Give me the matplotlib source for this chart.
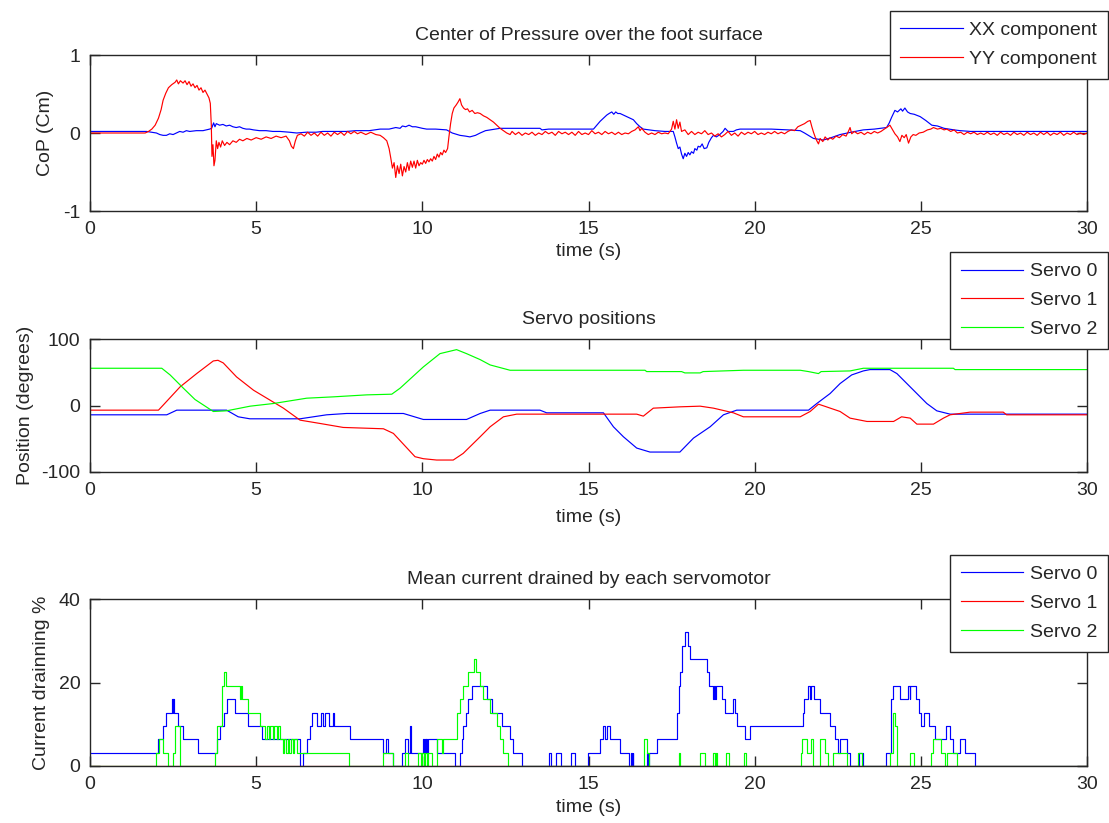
import matplotlib
matplotlib.use("Agg")
import matplotlib.pyplot as plt

plt.rcParams['font.family'] = ['Liberation Sans', 'DejaVu Sans']
plt.rcParams['axes.unicode_minus'] = False

# ---------------- Top: Center of Pressure ----------------
cop_xx_t = [0, 1.7, 1.85, 2.0, 2.1, 2.2, 2.3, 2.4, 2.5, 2.6, 2.7, 2.8, 2.9, 3.0, 3.2, 3.4, 3.6, 3.66,
            3.72, 3.76, 3.8, 3.9, 4.0, 4.1, 4.2, 4.3, 4.4, 4.5, 4.6, 4.7, 4.8, 4.92, 5.1, 5.3, 5.5,
            5.72, 6.0, 6.22, 6.5, 6.8, 7.0, 7.4, 7.72, 8.0, 8.4, 8.73, 9.0, 9.2, 9.33, 9.4, 9.5,
            9.6, 9.7, 9.8, 10.0, 10.13, 10.4, 10.73, 10.9, 11.13, 11.3, 11.43, 11.6, 11.74, 11.9,
            12.04, 12.34, 13.0, 13.54, 13.6, 13.8, 14.0, 14.5, 15.15, 15.25, 15.35, 15.45, 15.55,
            15.62, 15.7, 15.76, 15.82, 15.88, 15.95, 16.05, 16.15, 16.25, 16.35, 16.45, 16.55,
            16.65, 17.0, 17.3, 17.55, 17.6, 17.65, 17.7, 17.75, 17.8, 17.85, 17.9, 17.95, 18.0,
            18.05, 18.1, 18.16, 18.2, 18.26, 18.3, 18.36, 18.42, 18.48, 18.56, 18.62, 18.7, 18.76,
            18.85, 18.95, 19.05, 19.11, 19.2, 19.36, 19.45, 19.56, 20.0, 20.5, 21.0, 21.37, 21.5,
            21.77, 22.07, 22.3, 22.57, 22.9, 23.27, 23.6, 23.97, 24.05, 24.12, 24.22, 24.3, 24.4,
            24.45, 24.52, 24.6, 24.68, 24.8, 24.98, 25.15, 25.33, 25.5, 25.7, 26.0, 26.18, 26.5,
            27.0, 27.5, 28.0, 28.5, 29.0, 29.5, 30.0]
cop_xx_v = [0.02, 0.02, 0.01, 0.0, -0.02, -0.03, -0.03, -0.01, -0.02, 0.0, 0.02, 0.01, 0.03, 0.02,
            0.03, 0.03, 0.05, 0.06, 0.13, 0.08, 0.12, 0.1, 0.11, 0.09, 0.1, 0.08, 0.07, 0.08, 0.06,
            0.05, 0.05, 0.04, 0.03, 0.03, 0.02, 0.02, 0.01, 0.0, 0.01, 0.01, 0.02, 0.02, 0.02, 0.03,
            0.03, 0.05, 0.05, 0.07, 0.06, 0.09, 0.08, 0.1, 0.08, 0.08, 0.06, 0.05, 0.05, 0.04, 0.0,
            -0.03, -0.04, -0.05, -0.03, 0.0, 0.03, 0.04, 0.06, 0.06, 0.06, 0.04, 0.05, 0.05, 0.05,
            0.05, 0.1, 0.15, 0.19, 0.23, 0.25, 0.27, 0.24, 0.27, 0.25, 0.25, 0.23, 0.21, 0.19, 0.17,
            0.12, 0.08, 0.05, 0.03, 0.02, 0.02, -0.05, -0.13, -0.2, -0.18, -0.27, -0.33, -0.26,
            -0.3, -0.25, -0.28, -0.24, -0.26, -0.2, -0.22, -0.17, -0.18, -0.14, -0.2, -0.19, -0.12,
            -0.06, -0.03, -0.05, -0.02, 0.02, 0.06, 0.02, 0.02, 0.04, 0.05, 0.05, 0.05, 0.04, 0.03,
            0.0, -0.07, -0.09, -0.06, -0.02, 0.01, 0.04, 0.05, 0.07, 0.13, 0.2, 0.29, 0.27, 0.31,
            0.28, 0.32, 0.27, 0.25, 0.24, 0.21, 0.16, 0.1, 0.09, 0.06, 0.04, 0.03, 0.02, 0.02, 0.02,
            0.02, 0.02, 0.02, 0.02, 0.02]

cop_yy_t = [0, 1.66, 1.76, 1.86, 1.96, 2.06, 2.14, 2.2, 2.28, 2.36, 2.46, 2.56, 2.61, 2.66, 2.72,
            2.8, 2.86, 2.92, 2.98, 3.04, 3.1, 3.16, 3.22, 3.28, 3.34, 3.4, 3.46, 3.52, 3.58, 3.62,
            3.65, 3.67, 3.7, 3.73, 3.76, 3.8, 3.84, 3.88, 3.93, 3.98, 4.05, 4.12, 4.2, 4.3, 4.4,
            4.5, 4.6, 4.72, 4.85, 5.0, 5.15, 5.3, 5.45, 5.6, 5.75, 5.9, 6.0, 6.06, 6.12, 6.18, 6.24,
            6.35, 6.45, 6.55, 6.65, 6.75, 6.85, 6.95, 7.05, 7.15, 7.25, 7.35, 7.45, 7.55, 7.65,
            7.75, 7.85, 7.95, 8.05, 8.15, 8.3, 8.45, 8.6, 8.73, 8.83, 8.93, 9.0, 9.05, 9.1, 9.15,
            9.2, 9.25, 9.3, 9.35, 9.4, 9.45, 9.5, 9.55, 9.6, 9.65, 9.7, 9.75, 9.8, 9.85, 9.9, 9.95,
            10.0, 10.05, 10.1, 10.15, 10.2, 10.25, 10.3, 10.35, 10.4, 10.45, 10.5, 10.55, 10.6,
            10.65, 10.7, 10.76, 10.8, 10.85, 10.9, 10.95, 11.02, 11.08, 11.13, 11.18, 11.24, 11.3,
            11.36, 11.42, 11.5, 11.58, 11.66, 11.74, 11.84, 11.94, 12.04, 12.14, 12.24, 12.34,
            12.44, 12.54, 12.64, 12.7, 12.8, 12.9, 13.0, 13.1, 13.2, 13.3, 13.4, 13.5, 13.6, 13.7,
            13.8, 13.9, 14.0, 14.1, 14.2, 14.3, 14.4, 14.5, 14.6, 14.7, 14.8, 14.9, 15.0, 15.1,
            15.2, 15.3, 15.4, 15.5, 15.6, 15.7, 15.8, 15.9, 16.0, 16.1, 16.2, 16.3, 16.4, 16.5,
            16.55, 16.6, 16.7, 16.8, 16.9, 17.0, 17.1, 17.2, 17.3, 17.4, 17.5, 17.55, 17.6, 17.65,
            17.7, 17.75, 17.8, 17.9, 18.0, 18.1, 18.2, 18.3, 18.4, 18.5, 18.6, 18.7, 18.8, 18.9,
            19.0, 19.1, 19.2, 19.3, 19.4, 19.5, 19.6, 19.7, 19.8, 19.9, 20.0, 20.1, 20.2, 20.3,
            20.4, 20.5, 20.6, 20.7, 20.8, 20.9, 21.0, 21.1, 21.2, 21.3, 21.4, 21.5, 21.6, 21.67,
            21.72, 21.77, 21.82, 21.87, 21.92, 21.97, 22.05, 22.12, 22.2, 22.27, 22.35, 22.45,
            22.55, 22.65, 22.75, 22.82, 22.87, 22.92, 23.0, 23.1, 23.2, 23.3, 23.4, 23.5, 23.6,
            23.7, 23.8, 23.9, 24.0, 24.07, 24.15, 24.22, 24.3, 24.37, 24.43, 24.5, 24.56, 24.63,
            24.7, 24.77, 24.85, 24.95, 25.07, 25.2, 25.3, 25.38, 25.5, 25.6, 25.7, 25.78, 25.9,
            26.0, 26.1, 26.2, 26.3, 26.4, 26.5, 26.6, 26.7, 26.8, 26.9, 27.0, 27.1, 27.2, 27.3,
            27.4, 27.5, 27.6, 27.7, 27.8, 27.9, 28.0, 28.1, 28.2, 28.3, 28.4, 28.5, 28.6, 28.7,
            28.8, 28.9, 29.0, 29.1, 29.2, 29.3, 29.4, 29.5, 29.6, 29.7, 29.8, 29.9, 30.0]
cop_yy_v = [0.0, 0.0, 0.02, 0.05, 0.1, 0.19, 0.3, 0.42, 0.51, 0.58, 0.62, 0.65, 0.68, 0.63, 0.67,
            0.64, 0.67, 0.62, 0.66, 0.6, 0.63, 0.58, 0.61, 0.55, 0.58, 0.52, 0.55, 0.5, 0.45, 0.38,
            0.1, -0.3, -0.15, -0.42, -0.35, -0.1, -0.2, -0.12, -0.18, -0.1, -0.16, -0.12, -0.15,
            -0.1, -0.12, -0.08, -0.1, -0.07, -0.09, -0.06, -0.08, -0.05, -0.07, -0.04, -0.06,
            -0.04, -0.1, -0.17, -0.2, -0.1, -0.03, -0.01, -0.04, 0.01, -0.03, 0.0, -0.04, 0.01,
            -0.03, 0.0, -0.04, 0.01, -0.02, 0.01, -0.03, 0.02, -0.01, 0.02, -0.01, 0.01, -0.02,
            0.01, -0.02, -0.03, -0.06, -0.1, -0.2, -0.32, -0.45, -0.38, -0.57, -0.42, -0.52, -0.4,
            -0.55, -0.43, -0.5, -0.38, -0.48, -0.36, -0.44, -0.36, -0.45, -0.35, -0.42, -0.38, -0.4,
            -0.35, -0.39, -0.34, -0.37, -0.33, -0.36, -0.3, -0.34, -0.27, -0.31, -0.25, -0.28,
            -0.22, -0.25, -0.2, -0.05, 0.12, 0.25, 0.32, 0.36, 0.4, 0.44, 0.36, 0.32, 0.3, 0.31,
            0.27, 0.29, 0.25, 0.26, 0.25, 0.22, 0.2, 0.17, 0.14, 0.1, 0.06, 0.03, 0.0, -0.02, 0.02,
            -0.02, 0.01, -0.03, 0.0, -0.02, 0.01, -0.03, 0.0, -0.02, 0.02, -0.01, 0.01, -0.03, 0.02,
            -0.01, 0.01, -0.02, 0.01, -0.03, 0.02, -0.02, 0.0, -0.02, 0.03, -0.01, 0.01, -0.02,
            0.02, -0.01, 0.01, -0.02, 0.01, -0.02, 0.0, -0.01, 0.02, 0.04, 0.08, 0.03, 0.06, 0.01,
            -0.02, 0.0, -0.02, 0.01, -0.01, 0.0, -0.01, 0.05, 0.15, 0.05, 0.17, 0.06, 0.14, 0.02,
            0.04, -0.02, 0.02, -0.02, 0.01, -0.01, 0.03, -0.02, 0.0, -0.04, -0.01, -0.05, -0.02,
            0.02, -0.03, 0.0, -0.04, 0.01, -0.02, 0.01, -0.01, 0.02, -0.02, 0.0, -0.02, 0.01, -0.01,
            0.02, -0.01, 0.01, -0.01, 0.02, 0.04, 0.03, 0.08, 0.1, 0.12, 0.15, 0.16, 0.08, 0.01,
            -0.05, -0.1, -0.14, -0.07, -0.11, -0.05, -0.09, -0.06, -0.08, -0.04, -0.06, -0.02,
            -0.04, 0.02, 0.07, -0.01, 0.02, -0.01, 0.01, -0.02, 0.01, -0.01, 0.02, 0.0, 0.02, 0.05,
            0.08, 0.1, 0.04, -0.01, -0.05, -0.11, -0.03, -0.06, -0.02, -0.13, -0.05, -0.02, -0.03,
            0.0, 0.01, 0.04, 0.05, 0.07, 0.05, 0.06, 0.04, 0.05, 0.02, 0.04, 0.0, 0.01, -0.02, 0.01,
            -0.01, 0.01, -0.02, 0.0, -0.02, 0.01, -0.02, 0.0, -0.03, 0.01, -0.02, 0.0, -0.03, 0.01,
            -0.02, 0.0, -0.03, 0.01, -0.02, 0.0, -0.03, 0.01, -0.02, 0.01, -0.03, 0.0, -0.02, 0.01,
            -0.03, 0.0, -0.02, 0.01, -0.02, 0.0, -0.02, 0.0]

# ---------------- Middle: Servo positions ----------------
pos0_t = [0, 2.31, 2.61, 4.11, 4.46, 4.81, 6.32, 6.72, 7.12, 7.72, 9.43, 10.03, 11.33, 11.74,
          12.04, 13.54, 13.74, 15.45, 15.75, 16.05, 16.45, 16.85, 17.75, 18.16, 18.66, 19.06,
          19.46, 21.62, 21.87, 22.27, 22.57, 22.92, 23.27, 23.47, 24.07, 24.28, 24.78, 25.18,
          25.48, 25.88, 30]
pos0_v = [-14, -14, -7, -7, -17, -20, -20, -17, -14, -12, -12, -21, -21, -12, -7, -7, -11, -11,
          -32, -47, -64, -70, -70, -49, -32, -14, -7, -7, 3, 18, 33, 46, 52, 54, 54, 48, 23, 3,
          -8, -13, -13]

pos1_t = [0, 2.06, 2.21, 2.71, 3.21, 3.71, 3.85, 4.01, 4.41, 4.92, 5.42, 5.82, 6.32, 6.92, 7.62,
          8.83, 9.13, 9.78, 10.03, 10.43, 10.93, 11.23, 11.74, 12.04, 12.44, 12.84, 16.45, 16.65,
          16.95, 17.75, 18.36, 18.76, 19.36, 19.66, 21.37, 21.67, 21.92, 22.1, 22.57, 22.87,
          23.38, 24.18, 24.42, 24.68, 24.88, 25.38, 25.68, 25.88, 26.48, 27.48, 27.58, 30]
pos1_v = [-7, -7, 1, 28, 48, 67, 68, 64, 43, 23, 8, -4, -22, -27, -33, -35, -42, -77, -80, -82,
          -82, -72, -47, -32, -17, -13, -13, -16, -4, -2, -1, -4, -11, -17, -17, -9, 2, -1, -9,
          -19, -24, -24, -17, -19, -28, -28, -19, -14, -10, -10, -14, -14]

pos2_t = [0, 2.16, 2.41, 2.81, 3.16, 3.71, 4.11, 4.82, 5.52, 6.52, 7.32, 8.33, 9.08, 9.33, 10.03,
          10.53, 11.03, 11.33, 11.74, 12.04, 12.64, 16.7, 16.75, 17.8, 17.9, 18.0, 18.36, 18.45,
          19.66, 21.37, 21.62, 21.92, 22.0, 22.87, 23.27, 25.98, 26.03, 30]
pos2_v = [56, 56, 46, 26, 9, -9, -8, -1, 3, 11, 13, 16, 17, 26, 58, 78, 84, 78, 69, 61, 53, 53,
          51, 51, 49, 49, 49, 51, 53, 53, 51, 48, 51, 52, 56, 56, 54, 54]

# ---------------- Bottom: Mean current (step data) ----------------
cur0_t = [0, 2.06, 2.19, 2.29, 2.46, 2.49, 2.51, 2.53, 2.66, 2.79, 3.26, 3.81, 3.91, 4.03, 4.11,
          4.36, 4.76, 5.17, 6.32, 6.40, 6.52, 6.62, 6.69, 6.84, 6.94, 7.02, 7.07, 7.2, 7.3, 7.33,
          7.82, 8.83, 8.91, 8.97, 9.13, 9.38, 9.48, 9.58, 9.63, 9.66, 10.03, 10.06, 10.08, 10.1,
          10.12, 10.14, 10.18, 10.45, 10.98, 11.13, 11.18, 11.23, 11.31, 11.38, 11.48, 11.94,
          12.09, 12.39, 12.64, 12.74, 12.99, 13.8, 13.87, 14.03, 14.18, 14.48, 14.6, 14.97,
          15.35, 15.43, 15.5, 15.55, 15.65, 15.95, 16.23, 16.27, 16.3, 16.33, 16.35, 16.76, 16.8,
          16.83, 17.06, 17.66, 17.71, 17.76, 17.81, 17.89, 17.98, 18.06, 18.56, 18.64, 18.74,
          18.78, 18.8, 18.84, 19.01, 19.11, 19.36, 19.41, 19.46, 19.72, 19.85, 21.44, 21.48,
          21.61, 21.66, 21.69, 21.78, 21.96, 22.28, 22.42, 22.52, 22.57, 22.77, 22.87, 23.15,
          23.27, 23.95, 24.1, 24.17, 24.37, 24.62, 24.66, 24.68, 24.85, 24.95, 25.02, 25.09,
          25.24, 25.42, 25.77, 25.87, 25.98, 26.18, 26.33, 26.63, 30]
cur0_v = [3.2, 6.4, 9.6, 12.8, 16.0, 12.8, 16.0, 12.8, 9.6, 6.4, 3.2, 6.4, 9.6, 12.8, 16.0, 12.8,
          9.6, 6.4, 0.0, 3.2, 6.4, 9.6, 12.8, 9.6, 12.8, 9.6, 12.8, 9.6, 12.8, 9.6, 6.4, 3.2, 6.4,
          3.2, 0.0, 3.2, 6.4, 3.2, 9.6, 3.2, 6.4, 3.2, 6.4, 3.2, 6.4, 3.2, 6.4, 3.2, 0.0, 3.2, 6.4,
          9.6, 12.8, 16.0, 19.2, 16.0, 12.8, 9.6, 6.4, 3.2, 0.0, 3.2, 0.0, 3.2, 0.0, 3.2, 0.0, 3.2,
          6.4, 9.6, 6.4, 9.6, 6.4, 3.2, 0.0, 3.2, 0.0, 3.2, 0.0, 3.2, 0.0, 3.2, 6.4, 12.8, 19.2,
          22.4, 28.8, 32.0, 28.8, 25.6, 22.4, 19.2, 16.0, 19.2, 16.0, 19.2, 16.0, 12.8, 16.0,
          12.8, 9.6, 6.4, 9.6, 12.8, 16.0, 19.2, 16.0, 19.2, 16.0, 12.8, 9.6, 6.4, 3.2, 6.4, 3.2,
          0.0, 3.2, 0.0, 3.2, 16.0, 19.2, 16.0, 19.2, 16.0, 19.2, 16.0, 12.8, 9.6, 12.8, 9.6, 6.4,
          9.6, 6.4, 3.2, 6.4, 3.2, 0.0, 0.0]

cur1_t = [0, 30]
cur1_v = [0.0, 0.0]

cur2_t = [0, 1.99, 2.09, 2.19, 2.36, 2.51, 2.56, 2.71, 3.76, 3.83, 3.96, 4.03, 4.09, 4.51, 4.53,
          4.58, 4.76, 5.12, 5.27, 5.32, 5.38, 5.43, 5.5, 5.55, 5.62, 5.67, 5.72, 5.8, 5.84, 5.9,
          5.95, 6.0, 6.05, 6.1, 6.15, 6.22, 7.8, 8.81, 9.13, 9.48, 9.58, 9.88, 9.95, 9.98, 10.05,
          10.08, 10.15, 10.18, 10.28, 10.43, 10.58, 10.63, 11.03, 11.13, 11.23, 11.36, 11.55,
          11.6, 11.74, 11.84, 12.04, 12.24, 12.34, 12.44, 12.59, 16.66, 16.76, 16.81, 17.71,
          17.74, 18.36, 18.51, 18.76, 18.8, 18.83, 18.88, 19.14, 19.24, 19.67, 19.74, 21.38,
          21.43, 21.56, 21.71, 21.76, 21.98, 22.11, 22.21, 22.36, 22.77, 23.12, 23.22, 24.07,
          24.15, 24.22, 24.27, 24.67, 24.79, 25.32, 25.37, 25.62, 25.72, 25.78, 26.08, 30]
cur2_v = [0.0, 3.2, 6.4, 3.2, 0.0, 3.2, 9.6, 0.0, 3.2, 9.6, 19.2, 22.4, 19.2, 16.0, 19.2, 16.0,
          12.8, 9.6, 6.4, 9.6, 6.4, 9.6, 6.4, 9.6, 6.4, 9.6, 6.4, 3.2, 6.4, 3.2, 6.4, 3.2, 6.4,
          3.2, 6.4, 3.2, 0.0, 3.2, 0.0, 3.2, 0.0, 3.2, 0.0, 3.2, 0.0, 3.2, 0.0, 3.2, 0.0, 6.4, 3.2,
          6.4, 12.8, 16.0, 19.2, 22.4, 25.6, 22.4, 19.2, 16.0, 12.8, 9.6, 6.4, 3.2, 0.0, 6.4, 3.2,
          0.0, 3.2, 0.0, 3.2, 0.0, 3.2, 0.0, 3.2, 0.0, 3.2, 0.0, 3.2, 0.0, 3.2, 6.4, 3.2, 6.4,
          0.0, 6.4, 3.2, 0.0, 3.2, 0.0, 3.2, 0.0, 3.2, 12.8, 9.6, 0.0, 3.2, 0.0, 3.2, 6.4, 3.2,
          0.0, 3.2, 0.0, 0.0]

x_ticks = [0, 5, 10, 15, 20, 25, 30]
FS = 14
W, H = 1109, 823

fig = plt.figure(figsize=(W / 100, H / 100), dpi=100)
fig.patch.set_facecolor('white')


def px_axes(top, bottom):
    return [90 / W, 1 - bottom / H, 997 / W, (bottom - top) / H]


def style(ax, yticks, ylim, title, ylabel, ylab_x, xlab_y):
    ax.set_xlim(0, 30)
    ax.set_ylim(*ylim)
    ax.set_xticks(x_ticks)
    ax.set_yticks(yticks)
    ax.tick_params(direction='in', top=True, right=True, length=7, width=1,
                   labelsize=FS, color='#262626', labelcolor='#262626')
    ax.tick_params(axis='y', pad=7)
    ax.tick_params(axis='x', pad=7.5)
    for s in ax.spines.values():
        s.set_color('#262626')
        s.set_linewidth(1.0)
    ax.set_title(title, fontsize=FS, pad=11, color='#262626')
    ax.set_xlabel('time (s)', fontsize=FS, color='#262626')
    ax.set_ylabel(ylabel, fontsize=FS, color='#262626')
    ax.xaxis.set_label_coords(0.5, xlab_y)
    ax.xaxis.label.set_va('center')
    ax.yaxis.set_label_coords(ylab_x, 0.5)
    ax.yaxis.label.set_va('center')


def legend(ax, anchor_top):
    lg = ax.legend(loc='upper right', bbox_to_anchor=(1108 / W, 1 - anchor_top / H),
                   bbox_transform=fig.transFigure, borderaxespad=0, fontsize=FS,
                   fancybox=False, framealpha=1, edgecolor='#262626', handlelength=3.2,
                   handletextpad=0.35, labelspacing=0.58, borderpad=0.55)
    lg.get_frame().set_linewidth(1.0)
    for t in lg.get_texts():
        t.set_color('#262626')
    return lg


LW = 0.85
# Top
ax1 = fig.add_axes(px_axes(55, 211))
ax1.plot(cop_xx_t, cop_xx_v, color=(0, 0, 1), lw=LW, label='XX component')
ax1.plot(cop_yy_t, cop_yy_v, color=(1, 0, 0), lw=LW, label='YY component')
style(ax1, [-1, 0, 1], (-1, 1), 'Center of Pressure over the foot surface', 'CoP (Cm)',
      (46 - 90) / 997, (211 - 251) / 156)
legend(ax1, 11)

# Middle
ax2 = fig.add_axes(px_axes(339, 472))
ax2.plot(pos0_t, pos0_v, color=(0, 0, 1), lw=LW, label='Servo 0')
ax2.plot(pos1_t, pos1_v, color=(1, 0, 0), lw=LW, label='Servo 1')
ax2.plot(pos2_t, pos2_v, color=(0, 1, 0), lw=LW, label='Servo 2')
style(ax2, [-100, 0, 100], (-100, 100), 'Servo positions', 'Position (degrees)',
      (26 - 90) / 997, (472 - 518) / 133)
legend(ax2, 252)

# Bottom
ax3 = fig.add_axes(px_axes(599, 766))
ax3.plot(cur0_t, cur0_v, color=(0, 0, 1), lw=LW, drawstyle='steps-post', label='Servo 0')
ax3.plot(cur1_t, cur1_v, color=(1, 0, 0), lw=LW, drawstyle='steps-post', label='Servo 1')
ax3.plot(cur2_t, cur2_v, color=(0, 1, 0), lw=LW, drawstyle='steps-post', label='Servo 2')
style(ax3, [0, 20, 40], (0, 40), 'Mean current drained by each servomotor',
      'Current drainning %', (42 - 90) / 997, (766 - 808) / 167)
legend(ax3, 555)

fig.savefig('out.png', dpi=100, facecolor='white')
